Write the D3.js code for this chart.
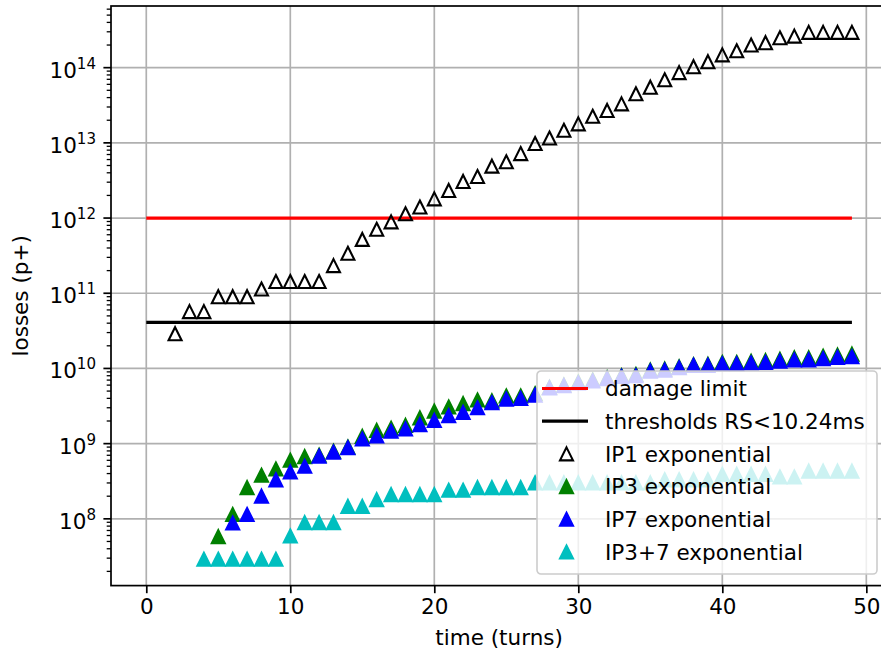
<!DOCTYPE html>
<html>
<head>
<meta charset="utf-8">
<script src="https://cdn.jsdelivr.net/npm/d3@7/dist/d3.min.js"></script>
<style>
  body { margin: 0; background: #fff; }
  text { font-family: "DejaVu Sans", sans-serif; fill: #000; }
</style>
</head>
<body>
<div id="chart"></div>
<script>
// turn numbers on the x axis
const turns = [0,1,2,3,4,5,6,7,8,9,10,11,12,13,14,15,16,17,18,19,20,21,22,23,24,
               25,26,27,28,29,30,31,32,33,34,35,36,37,38,39,40,41,42,43,44,45,46,47,48,49];

// losses per turn (null = no point)
const ip1 = [null,null,2.9e10,5.7e10,5.7e10,9e10,9e10,9e10,1.14e11,1.43e11,
             1.43e11,1.43e11,1.43e11,2.33e11,3.4e11,5.2e11,7.1e11,8.9e11,1.14e12,1.4e12,
             1.8e12,2.33e12,3.07e12,3.57e12,4.9e12,5.6e12,7.2e12,9.8e12,1.16e13,1.47e13,
             1.79e13,2.26e13,2.7e13,3.3e13,4.5e13,5.5e13,6.9e13,8.6e13,1.03e14,1.2e14,
             1.48e14,1.68e14,2.0e14,2.15e14,2.5e14,2.63e14,2.95e14,2.95e14,2.95e14,2.95e14];
const ip3 = [null,null,null,null,null,5.8e7,1.14e8,2.6e8,3.8e8,4.6e8,
             6.0e8,6.7e8,7.0e8,7.9e8,9.0e8,1.25e9,1.5e9,1.6e9,1.75e9,2.2e9,
             2.7e9,3.07e9,3.4e9,3.8e9,3.7e9,4.3e9,4.3e9,4.6e9,5.6e9,6.0e9,
             6.6e9,7.0e9,7.5e9,8.0e9,8.3e9,9.5e9,9.8e9,1.05e10,1.12e10,1.13e10,
             1.2e10,1.2e10,1.24e10,1.27e10,1.32e10,1.38e10,1.38e10,1.45e10,1.5e10,1.55e10];
const ip7 = [null,null,null,null,null,null,8.8e7,1.14e8,2.0e8,3.3e8,
             4.2e8,5.0e8,6.8e8,7.7e8,8.8e8,1.15e9,1.27e9,1.46e9,1.57e9,1.79e9,
             2.04e9,2.36e9,2.6e9,3.0e9,3.5e9,3.9e9,4.0e9,4.4e9,5.5e9,5.9e9,
             6.4e9,6.8e9,7.3e9,7.8e9,8.0e9,9.2e9,9.5e9,1.02e10,1.1e10,1.1e10,
             1.15e10,1.15e10,1.18e10,1.2e10,1.25e10,1.3e10,1.3e10,1.35e10,1.4e10,1.43e10];
const ip37 = [null,null,null,null,2.9e7,2.9e7,2.9e7,2.9e7,2.9e7,2.9e7,
              5.9e7,8.9e7,8.9e7,8.9e7,1.46e8,1.46e8,1.8e8,2.1e8,2.1e8,2.1e8,
              2.1e8,2.4e8,2.4e8,2.6e8,2.6e8,2.6e8,2.6e8,3.0e8,3.0e8,3.0e8,
              3.0e8,3.0e8,3.0e8,3.0e8,3.0e8,3.0e8,3.3e8,3.3e8,3.3e8,3.3e8,
              3.9e8,3.9e8,3.9e8,3.9e8,3.6e8,3.6e8,4.3e8,4.3e8,4.3e8,4.3e8];

const damageLimit = 1e12;
const threshold = 4.1e10;

const xTicks = [0, 10, 20, 30, 40, 50];
const yDecades = [8, 9, 10, 11, 12, 13, 14];
const legendLabels = ["damage limit", "thresholds RS<10.24ms", "IP1 exponential",
                      "IP3 exponential", "IP7 exponential", "IP3+7 exponential"];

const width = 881, height = 654;
const fs = 21.5;
const plot = {left: 111, right: 887.2, top: 6, bottom: 585.6};

const svg = d3.select("#chart").append("svg")
    .attr("width", width)
    .attr("height", height)
    .style("display", "block");

// matplotlib-style 5% margins
const xExt = d3.extent(turns);
const xPad = (xExt[1] - xExt[0]) * 0.05;
const x = d3.scaleLinear().domain([xExt[0] - xPad, xExt[1] + xPad]).range([plot.left, plot.right]);

const allVals = [].concat(ip1, ip3, ip7, ip37, [damageLimit, threshold]).filter(v => v != null);
const lMin = Math.log10(d3.min(allVals)), lMax = Math.log10(d3.max(allVals));
const lPad = (lMax - lMin) * 0.05;
const y = d3.scaleLog().domain([Math.pow(10, lMin - lPad), Math.pow(10, lMax + lPad)])
    .range([plot.bottom, plot.top]);

// grid
const grid = svg.append("g").attr("stroke", "#b0b0b0").attr("stroke-width", 1.7);
grid.selectAll(".gx").data(xTicks).enter().append("line")
    .attr("x1", d => x(d)).attr("x2", d => x(d))
    .attr("y1", plot.top).attr("y2", plot.bottom);
grid.selectAll(".gy").data(yDecades).enter().append("line")
    .attr("x1", plot.left).attr("x2", plot.right)
    .attr("y1", d => y(Math.pow(10, d))).attr("y2", d => y(Math.pow(10, d)));

// horizontal limit lines
const line = d3.line().x(d => x(d[0])).y(d => y(d[1]));
svg.append("path")
    .attr("d", line([[turns[0], damageLimit], [turns[turns.length - 1], damageLimit]]))
    .attr("stroke", "#ff0000").attr("stroke-width", 3.2).attr("fill", "none");
svg.append("path")
    .attr("d", line([[turns[0], threshold], [turns[turns.length - 1], threshold]]))
    .attr("stroke", "#000").attr("stroke-width", 3.2).attr("fill", "none");

// triangle marker, centred in its box like matplotlib's '^'
const tri = "M0,-6.5L6.5,6.5L-6.5,6.5Z";

const series = [
  {vals: ip1, fill: "none", stroke: "#000"},
  {vals: ip3, fill: "#008000", stroke: "#008000"},
  {vals: ip7, fill: "#0000ff", stroke: "#0000ff"},
  {vals: ip37, fill: "#00bfbf", stroke: "#00bfbf"}
];

series.forEach(s => {
  const pts = turns.map((t, i) => ({t: t, v: s.vals[i]})).filter(d => d.v != null);
  svg.append("g").selectAll("path")
      .data(pts)
    .enter().append("path")
      .attr("d", tri)
      .attr("transform", d => "translate(" + x(d.t) + "," + y(d.v) + ")")
      .attr("fill", s.fill)
      .attr("stroke", s.stroke)
      .attr("stroke-width", 2.1)
      .attr("stroke-linejoin", "miter");
});

// x axis
const xAxis = svg.append("g")
    .attr("transform", "translate(0," + plot.bottom + ")")
    .call(d3.axisBottom(x).tickValues(xTicks).tickSize(7.6).tickPadding(6).tickFormat(d3.format("d")));
xAxis.select(".domain").remove();
xAxis.selectAll(".tick line").attr("stroke", "#000").attr("stroke-width", 1.7);
xAxis.selectAll(".tick text").attr("font-size", fs).attr("font-family", "DejaVu Sans");

// y axis: major + minor log ticks
const yAx = svg.append("g");
const [d0, d1] = y.domain();
const minor = [];
for (let e = Math.floor(Math.log10(d0)); e <= Math.ceil(Math.log10(d1)); e++) {
  for (let m = 2; m <= 9; m++) {
    const v = m * Math.pow(10, e);
    if (v >= d0 && v <= d1) minor.push(v);
  }
}
yAx.selectAll(".minor").data(minor).enter().append("line")
    .attr("x1", plot.left - 4.3).attr("x2", plot.left)
    .attr("y1", d => y(d)).attr("y2", d => y(d))
    .attr("stroke", "#000").attr("stroke-width", 1.3);
yAx.selectAll(".major").data(yDecades).enter().append("line")
    .attr("x1", plot.left - 7.6).attr("x2", plot.left)
    .attr("y1", d => y(Math.pow(10, d))).attr("y2", d => y(Math.pow(10, d)))
    .attr("stroke", "#000").attr("stroke-width", 1.7);
const yl = yAx.selectAll(".lab").data(yDecades).enter().append("text")
    .attr("x", plot.left - 15)
    .attr("y", d => y(Math.pow(10, d)) + 10)
    .attr("text-anchor", "end")
    .attr("font-size", fs);
yl.append("tspan").text("10");
yl.append("tspan").attr("dy", -9).attr("font-size", fs * 0.7).text(d => d);

// spines
svg.append("rect")
    .attr("x", plot.left).attr("y", plot.top)
    .attr("width", plot.right - plot.left).attr("height", plot.bottom - plot.top)
    .attr("fill", "none").attr("stroke", "#000").attr("stroke-width", 1.7);

// axis labels
svg.append("text")
    .attr("x", (plot.left + plot.right) / 2).attr("y", 645)
    .attr("text-anchor", "middle").attr("font-size", fs)
    .text("time (turns)");
svg.append("text")
    .attr("transform", "translate(28," + ((plot.top + plot.bottom) / 2) + ") rotate(-90)")
    .attr("text-anchor", "middle").attr("font-size", fs)
    .text("losses (p+)");

// legend
const lg = svg.append("g").attr("transform", "translate(537,371)");
lg.append("rect")
    .attr("width", 340).attr("height", 203).attr("rx", 4)
    .attr("fill", "#fff").attr("fill-opacity", 0.8)
    .attr("stroke", "#cccccc").attr("stroke-width", 1.6);
const rowH = 32.7;
legendLabels.forEach((lab, i) => {
  const cy = 17.5 + i * rowH;
  if (i < 2) {
    lg.append("line")
        .attr("x1", 5).attr("x2", 51).attr("y1", cy).attr("y2", cy)
        .attr("stroke", i === 0 ? "#ff0000" : "#000").attr("stroke-width", 3.2);
  } else {
    const s = series[i - 2];
    lg.append("path").attr("d", tri)
        .attr("transform", "translate(29.5," + cy + ")")
        .attr("fill", s.fill).attr("stroke", s.stroke).attr("stroke-width", 2.1);
  }
  lg.append("text")
      .attr("x", 68).attr("y", cy + 7.8)
      .attr("font-size", fs)
      .text(lab);
});
</script>
</body>
</html>
